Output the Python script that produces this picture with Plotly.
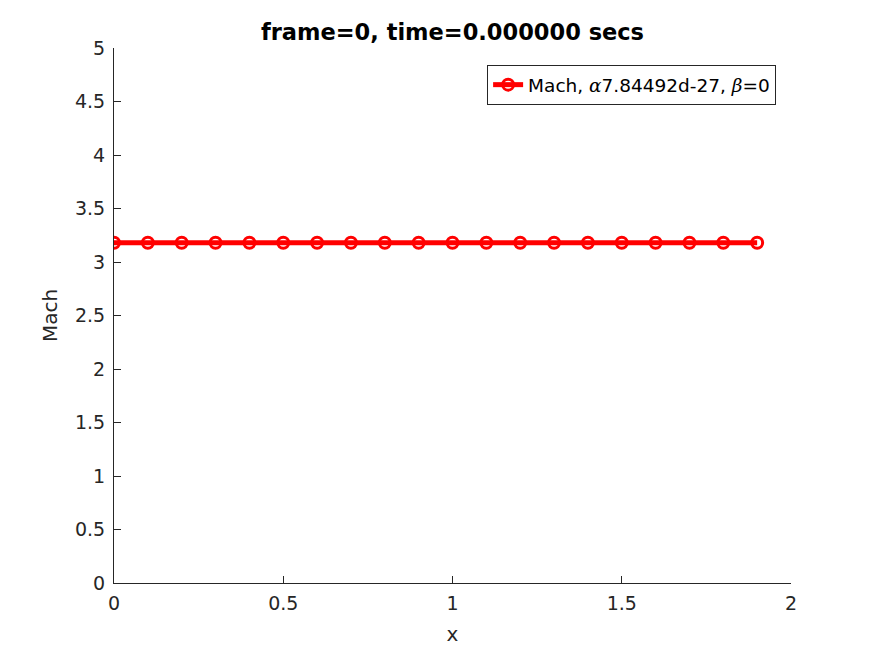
import plotly.graph_objects as go

x_vals = [0.0, 0.1, 0.2, 0.3, 0.4, 0.5, 0.6, 0.7, 0.8, 0.9,
          1.0, 1.1, 1.2, 1.3, 1.4, 1.5, 1.6, 1.7, 1.8, 1.9]
mach_vals = [3.18] * 20
x_ticks = [0, 0.5, 1, 1.5, 2]
x_tick_text = ["0", "0.5", "1", "1.5", "2"]
y_ticks = [0, 0.5, 1, 1.5, 2, 2.5, 3, 3.5, 4, 4.5, 5]
y_tick_text = ["0", "0.5", "1", "1.5", "2", "2.5", "3", "3.5", "4", "4.5", "5"]

greek = 'font-family:\'DejaVu Serif\', serif;font-style:italic'
legend_name = (f'Mach, <span style="{greek}">α</span>7.84492d-27, '
               f'<span style="{greek}">β</span>=0')

FONT = "DejaVu Sans, sans-serif"

fig = go.Figure()
fig.add_trace(go.Scatter(
    x=x_vals, y=mach_vals, mode="lines+markers", name=legend_name,
    line=dict(color="#ff0000", width=5),
    marker=dict(symbol="circle-open", size=11, color="#ff0000",
                line=dict(width=3, color="#ff0000")),
    showlegend=True,
))

axis_common = dict(
    showline=True, linecolor="#262626", linewidth=1,
    ticks="inside", ticklen=7, tickcolor="#262626",
    showgrid=False, zeroline=False, mirror=False, automargin=False,
    tickfont=dict(family=FONT, size=19, color="#262626"),
)

fig.update_layout(
    width=875, height=656,
    paper_bgcolor="white", plot_bgcolor="white",
    margin=dict(l=106, r=92, t=40, b=81),
    title=dict(text="<b>frame=0, time=0.000000 secs</b>", x=0.5, xref="paper",
               y=1 - 24 / 656, yanchor="middle",
               font=dict(family=FONT, size=22.5, color="black")),
    xaxis=dict(range=[0, 2], tickvals=x_ticks, ticktext=x_tick_text,
               ticklabelstandoff=3,
               title=dict(text="x", standoff=14,
                          font=dict(family=FONT, size=20, color="#262626")),
               **axis_common),
    yaxis=dict(range=[0, 5], tickvals=y_ticks, ticktext=y_tick_text,
               ticklabelstandoff=4,
               title=dict(text="Mach", standoff=11,
                          font=dict(family=FONT, size=20, color="#262626")),
               **axis_common),
    legend=dict(x=0.978, y=0.968, xanchor="right", yanchor="top",
                bgcolor="white", bordercolor="#262626", borderwidth=1,
                font=dict(family=FONT, size=18.5, color="black")),
)

fig.write_html("out.html")
